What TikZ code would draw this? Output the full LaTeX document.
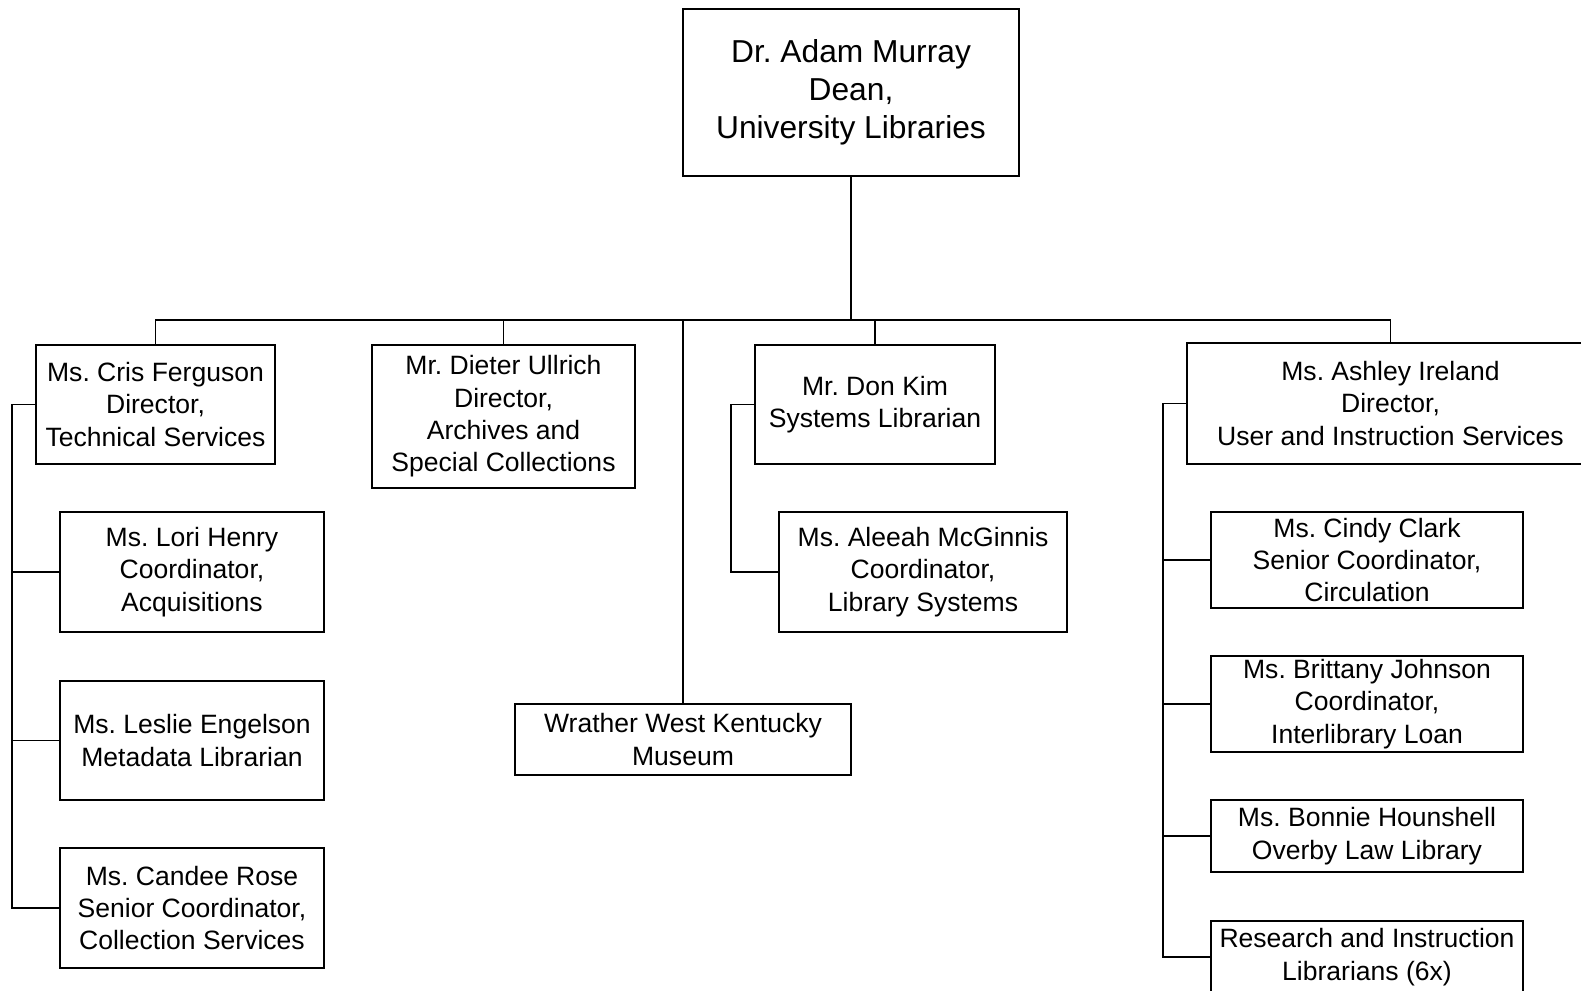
\documentclass[tikz,border=0pt]{standalone}
\usepackage{fontspec}
\setmainfont{Liberation Sans}
\frenchspacing
\begin{document}
\begin{tikzpicture}[x=0.75pt,y=-0.75pt,
  box/.style={draw,line width=1pt,align=center,inner sep=0pt,
    font=\frenchspacing\fontsize{19.9pt}{24.2pt}\selectfont},
  bigbox/.style={box,font=\frenchspacing\fontsize{23.8pt}{28.7pt}\selectfont},
  conn/.style={line width=1pt},
  spine/.style={line width=1.4pt},
  thick conn/.style={line width=2pt}]
\useasboundingbox (0,0) rectangle (1581,990);
% top
\node[bigbox,minimum width=252pt,minimum height=125.25pt] (dean) at (851,92.5)
  {Dr. Adam Murray\\Dean,\\University Libraries};
% second level
\node[box,minimum width=179.25pt,minimum height=89.25pt] (fer) at (155.5,404.5)
  {Ms. Cris Ferguson\\Director,\\Technical Services};
\node[box,minimum width=197.25pt,minimum height=107.25pt] (ull) at (503.5,416.5)
  {Mr. Dieter Ullrich\\Director,\\Archives and\\Special Collections};
\node[box,minimum width=180pt,minimum height=89.25pt] (kim) at (875,404.5)
  {Mr. Don Kim\\Systems Librarian};
\node[box,minimum width=305.25pt,minimum height=90.75pt] (ash) at (1390.5,403.5)
  {Ms. Ashley Ireland\\Director,\\User and Instruction Services};
\node[box,minimum width=252pt,minimum height=53.25pt] (mus) at (683,739.5)
  {Wrather West Kentucky\\Museum};
% Ferguson's reports
\node[box,minimum width=198pt,minimum height=90pt] (lori) at (192,572)
  {Ms. Lori Henry\\Coordinator,\\Acquisitions};
\node[box,minimum width=198pt,minimum height=89.25pt] (les) at (192,740.5)
  {Ms. Leslie Engelson\\Metadata Librarian};
\node[box,minimum width=198pt,minimum height=90pt] (can) at (192,908)
  {Ms. Candee Rose\\Senior Coordinator,\\Collection Services};
% Kim's report
\node[box,minimum width=216pt,minimum height=90pt] (mcg) at (923,572)
  {Ms. Aleeah McGinnis\\Coordinator,\\Library Systems};
% Ireland's reports
\node[box,minimum width=234pt,minimum height=72pt] (cin) at (1367,560)
  {Ms. Cindy Clark\\Senior Coordinator,\\Circulation};
\node[box,minimum width=234pt,minimum height=72pt] (bri) at (1367,704)
  {Ms. Brittany Johnson\\Coordinator,\\Interlibrary Loan};
\node[box,minimum width=234pt,minimum height=54pt] (bon) at (1367,836)
  {Ms. Bonnie Hounshell\\Overby Law Library};
\node[box,minimum width=234pt,minimum height=54pt] (res) at (1367,957)
  {Research and Instruction\\Librarians (6x)};
% coordinates
\coordinate (bus) at (851,320);
\coordinate (fsp) at (12,0);
\coordinate (ksp) at (731,0);
\coordinate (asp) at (1163,0);
% connectors
\draw[thick conn] (dean.south) -- (bus);
\draw[conn] (fer.north) |- (bus);
\draw[conn] (ash.north) |- (bus);
\draw[conn] (ull.north) |- (bus);
\draw[conn] (kim.north) |- (bus);
\draw[conn] (mus.north) |- (bus);
\draw[spine] (fer.west) -| (fsp |- can.west) -- (can.west);
\draw[conn] (lori.west) -- (lori.west -| fsp);
\draw[conn] (les.west) -- (les.west -| fsp);
\draw[conn] (kim.west) -| (ksp |- mcg.west) -- (mcg.west);
\draw[spine] (ash.west) -| (asp |- res.west) -- (res.west);
\draw[conn] (cin.west) -- (cin.west -| asp);
\draw[conn] (bri.west) -- (bri.west -| asp);
\draw[conn] (bon.west) -- (bon.west -| asp);
\end{tikzpicture}
\end{document}
